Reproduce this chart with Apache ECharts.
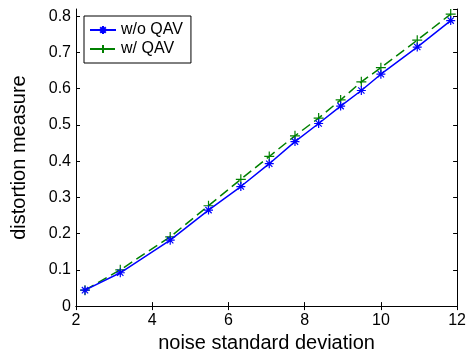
<!DOCTYPE html>
<html>
<head>
<meta charset="utf-8">
<script src="https://cdn.jsdelivr.net/npm/echarts@6/dist/echarts.min.js"></script>
<style>
html,body{margin:0;padding:0;background:#fff;}
#chart{width:469px;height:358px;}
</style>
</head>
<body>
<div id="chart"></div>
<script>
// noise standard deviation (x)
var noiseStd = [2.236, 3.162, 4.472, 5.477, 6.325, 7.071, 7.746, 8.367, 8.944, 9.487, 10.0, 10.954, 11.832];
// distortion measure, without QAV
var withoutQAV = [0.044, 0.092, 0.182, 0.265, 0.330, 0.393, 0.454, 0.504, 0.552, 0.595, 0.640, 0.715, 0.788];
// distortion measure, with QAV
var withQAV = [0.044, 0.100, 0.191, 0.277, 0.350, 0.413, 0.470, 0.519, 0.569, 0.619, 0.658, 0.734, 0.806];
var xTicks = [2, 4, 6, 8, 10, 12];
var yTicks = [0, 0.1, 0.2, 0.3, 0.4, 0.5, 0.6, 0.7, 0.8];
var seriesNames = ['w/o QAV', 'w/ QAV'];

function pairs(xs, ys) { return xs.map(function (x, i) { return [x, ys[i]]; }); }

var FONT = 'Liberation Sans, Arial, sans-serif';
var starPath = 'path://M0,-10L0,10M-10,0L10,0M-7,-7L7,7M-7,7L7,-7';
var plusPath = 'path://M0,-10L0,10M-10,0L10,0';

var chart = echarts.init(document.getElementById('chart'), null, {renderer: 'canvas'});
var axisLineStyle = {lineStyle: {color: '#000', width: 1}};
chart.setOption({
  animation: false,
  backgroundColor: '#fff',
  grid: {left: 76, top: 9, right: 8, bottom: 45, containLabel: false},
  legend: {
    orient: 'vertical',
    left: 84, top: 16,
    data: seriesNames,
    backgroundColor: '#fff',
    borderColor: '#000', borderWidth: 1, borderRadius: 0,
    padding: [6, 8, 6, 5],
    itemWidth: 26, itemHeight: 10, itemGap: 3,
    textStyle: {fontFamily: FONT, fontSize: 16, color: '#000'}
  },
  xAxis: [{
    type: 'value', min: xTicks[0], max: xTicks[xTicks.length - 1], interval: 2,
    position: 'bottom',
    name: 'noise standard deviation', nameLocation: 'middle', nameGap: 24,
    nameTextStyle: {fontFamily: FONT, fontSize: 20, color: '#000'},
    axisLine: axisLineStyle,
    axisTick: {inside: true, length: 4, lineStyle: {color: '#000'}},
    axisLabel: {fontFamily: FONT, fontSize: 16, color: '#000', margin: 6},
    splitLine: {show: false}
  }, {
    type: 'value', min: xTicks[0], max: xTicks[xTicks.length - 1], interval: 2,
    position: 'top',
    axisLine: axisLineStyle,
    axisTick: {inside: true, length: 4, lineStyle: {color: '#000'}},
    axisLabel: {show: false}, splitLine: {show: false}
  }],
  yAxis: [{
    type: 'value', min: 0, max: 0.82, interval: 0.1,
    position: 'left',
    name: 'distortion measure', nameLocation: 'middle', nameGap: 47,
    nameTextStyle: {fontFamily: FONT, fontSize: 20, color: '#000'},
    axisLine: axisLineStyle,
    axisTick: {inside: true, length: 4, lineStyle: {color: '#000'}},
    axisLabel: {
      fontFamily: FONT, fontSize: 16, color: '#000', margin: 5, showMaxLabel: false,
      formatter: function (v) {
        var r = Math.round(v * 10) / 10;
        return yTicks.indexOf(r) >= 0 && Math.abs(r - v) < 1e-6 ? String(r) : '';
      }
    },
    splitLine: {show: false}
  }, {
    type: 'value', min: 0, max: 0.82, interval: 0.1,
    position: 'right',
    axisLine: axisLineStyle,
    axisTick: {inside: true, length: 4, lineStyle: {color: '#000'}},
    axisLabel: {show: false}, splitLine: {show: false}
  }],
  series: [{
    name: seriesNames[0], type: 'line',
    data: pairs(noiseStd, withoutQAV),
    symbol: starPath, symbolSize: 9,
    showAllSymbol: true,
    lineStyle: {color: '#0000ff', width: 1.5},
    itemStyle: {color: '#0000ff', borderColor: '#0000ff', borderWidth: 1.2},
    z: 3
  }, {
    name: seriesNames[1], type: 'line',
    data: pairs(noiseStd, withQAV),
    symbol: plusPath, symbolSize: 10,
    showAllSymbol: true,
    lineStyle: {color: '#008000', width: 1.5, type: [10, 5]},
    itemStyle: {color: '#008000', borderColor: '#008000', borderWidth: 1.2},
    z: 2
  }]
});
</script>
</body>
</html>
